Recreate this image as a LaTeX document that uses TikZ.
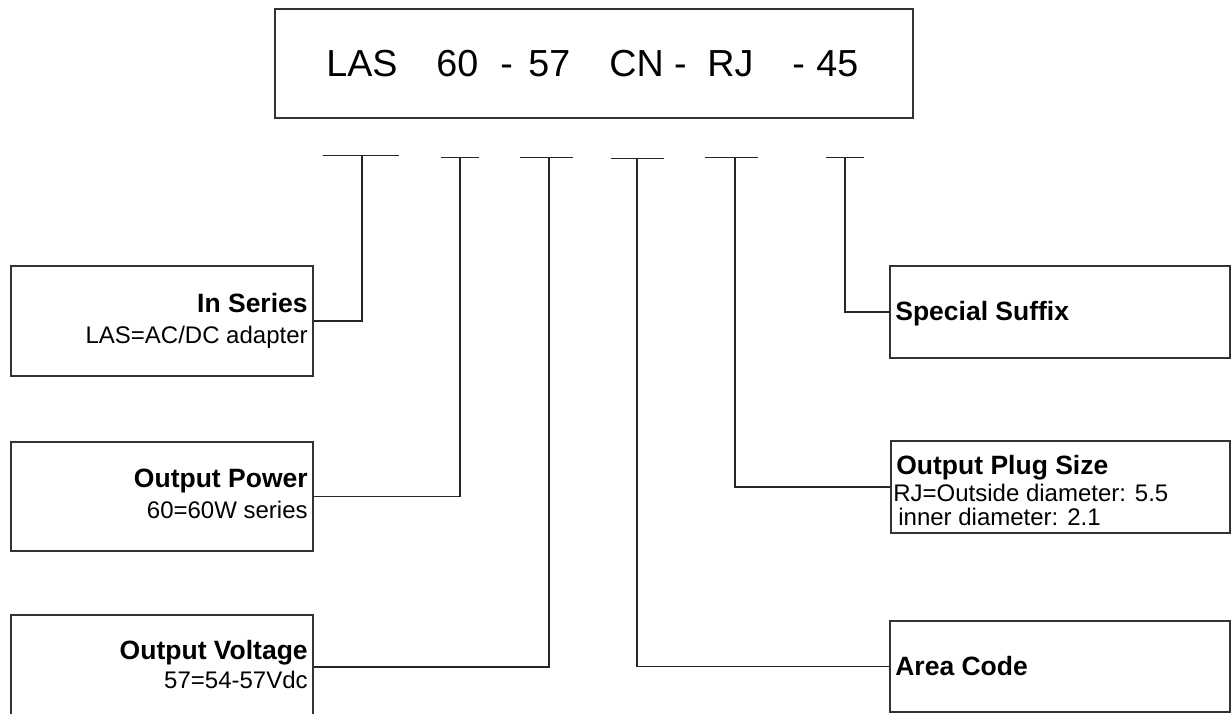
\documentclass[tikz,border=0pt]{standalone}
\usepackage{fontspec}
\setmainfont{Liberation Sans}
\usetikzlibrary{fit}
\begin{document}
\begin{tikzpicture}[x=0.6pt,y=-0.6pt,
  box/.style={draw=black!80,line width=0.75pt,inner sep=0pt},
  conn/.style={draw=black!85,line width=0.7pt},
  big/.style={inner sep=0pt,anchor=base west,font=\fontsize{22.6}{27}\selectfont},
  hd/.style={inner sep=0pt,font=\bfseries\fontsize{15.9}{19}\selectfont},
  sub/.style={inner sep=0pt,font=\fontsize{14.4}{17}\selectfont}]
\useasboundingbox (0,0) rectangle (1232,713);
% top code box
\node[box,fit={(275,9)(913,118)}] (code) {};
\node[big] (tLAS) at (326,76) {LAS};
\node[big] (t60) at (436,76) {60};
\node[big] (td1) at (500,76) {-};
\node[big] (t57) at (528,76) {57};
\node[big] (tCN) at (609,76) {CN -};
\node[big] (tRJ) at (707,76) {RJ};
\node[big] (td2) at (792,76) {-};
\node[big] (t45) at (816,76) {45};
% tick bars
\coordinate (a1) at (323,155.5); \coordinate (b1) at (399,155.5); \coordinate (t1) at (362,155.5);
\coordinate (a2) at (441,157.5); \coordinate (b2) at (479,157.5); \coordinate (t2) at (460,157.5);
\coordinate (a3) at (520,157.5); \coordinate (b3) at (573,157.5); \coordinate (t3) at (549,157.5);
\coordinate (a4) at (611,158.5); \coordinate (b4) at (664,158.5); \coordinate (t4) at (637,158.5);
\coordinate (a5) at (705,157.5); \coordinate (b5) at (758,157.5); \coordinate (t5) at (735,157.5);
\coordinate (a6) at (826,157.5); \coordinate (b6) at (864,157.5); \coordinate (t6) at (845,157.5);
\foreach \i in {1,...,6} {\draw[conn] (a\i) -- (b\i);}
% left boxes
\node[box,fit={(11,266)(313,376)}] (series) {};
\node[hd,anchor=base east] (seriesH) at (308,312) {In Series};
\node[sub,anchor=base east] (seriesS) at (308,343) {LAS=AC/DC adapter};
\node[box,fit={(11,442)(313,551)}] (power) {};
\node[hd,anchor=base east] (powerH) at (308,487) {Output Power};
\node[sub,anchor=base east] (powerS) at (308,518) {60=60W series};
\node[box,fit={(11,615)(313,719)}] (volt) {};
\node[hd,anchor=base east] (voltH) at (308,659) {Output Voltage};
\node[sub,anchor=base east] (voltS) at (308,688) {57=54-57Vdc};
% right boxes
\node[box,fit={(890,266)(1230,358)}] (suffix) {};
\node[hd,anchor=base west] (suffixH) at (895,320) {Special Suffix};
\node[box,fit={(891,441)(1230,533)}] (plug) {};
\node[hd,anchor=base west] (plugH) at (896,474) {Output Plug Size};
\node[sub,anchor=base west] (plugS1) at (893,501) {RJ=Outside diameter: 5.5};
\node[sub,anchor=base west] (plugS2) at (898,525) {inner diameter: 2.1};
\node[box,fit={(890,621)(1230,712)}] (area) {};
\node[hd,anchor=base west] (areaH) at (895,675) {Area Code};
% connectors
\draw[conn] (t1) |- (series.east);
\draw[conn] (t2) |- (power.east);
\draw[conn] (t3) |- (volt.east);
\draw[conn] (t4) |- (area.west);
\draw[conn] (t5) |- (plug.west);
\draw[conn] (t6) |- (suffix.west);
\end{tikzpicture}
\end{document}
